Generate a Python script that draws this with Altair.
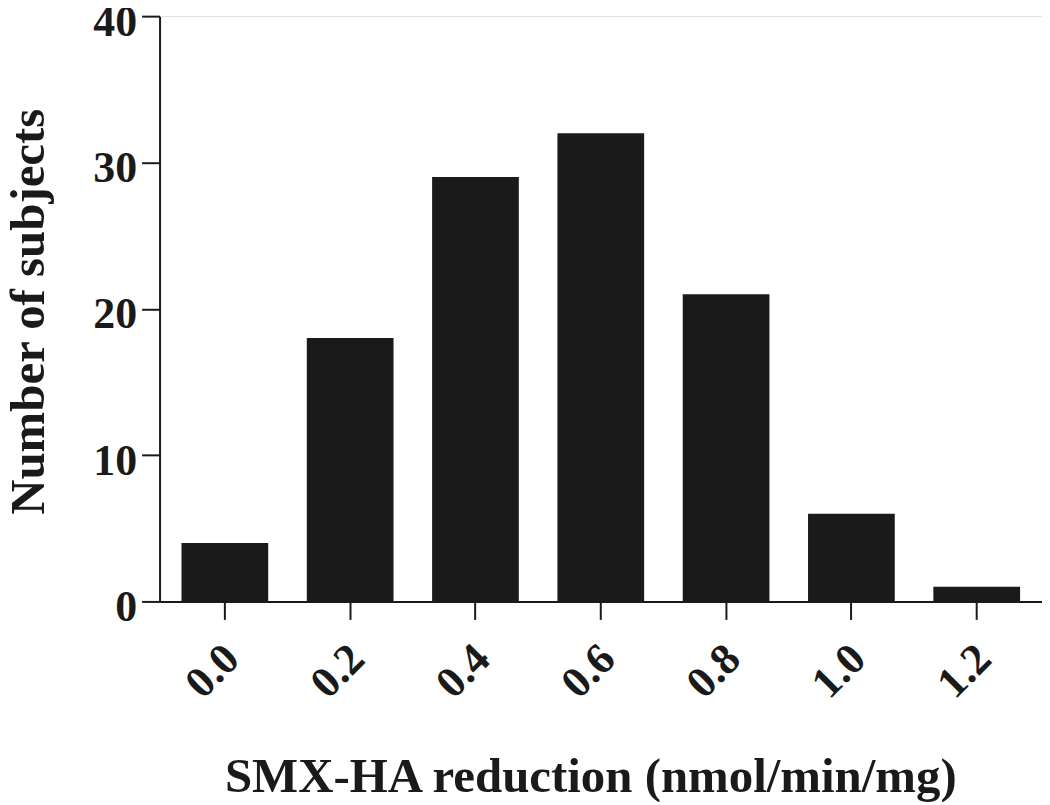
import altair as alt
import pandas as pd

categories = ["0.0", "0.2", "0.4", "0.6", "0.8", "1.0", "1.2"]
counts = [4, 18, 29, 32, 21, 6, 1]

df = pd.DataFrame({"bin": categories, "n": counts})

FONT = "Liberation Serif"

chart = alt.Chart(df).mark_bar(color="#1a1a1a").encode(
    x=alt.X(
        "bin:N",
        sort=categories,
        scale=alt.Scale(paddingInner=0.308, paddingOuter=0.175),
        axis=alt.Axis(
            title="SMX-HA reduction (nmol/min/mg)",
            labelAngle=315,
            labelAlign="right",
            labelBaseline="top",
            labelPadding=17,
            labelOffset=-8,
            labelFont=FONT,
            labelFontSize=44,
            labelFontWeight="bold",
            labelColor="#1a1a1a",
            tickSize=18,
            tickWidth=2,
            tickColor="#1a1a1a",
            domainWidth=2,
            domainColor="#1a1a1a",
            titleFont=FONT,
            titleFontSize=49,
            titleFontWeight="bold",
            titleColor="#1a1a1a",
            titleX=432,
            titleY=191,
            titleAlign="center",
            titleBaseline="alphabetic",
        ),
    ),
    y=alt.Y(
        "n:Q",
        scale=alt.Scale(domain=[0, 40], nice=False),
        axis=alt.Axis(
            title="Number of subjects",
            values=[0, 10, 20, 30, 40],
            grid=False,
            labelFont=FONT,
            labelFontSize=44,
            labelFontWeight="bold",
            labelColor="#1a1a1a",
            labelPadding=5,
            labelBaseline="middle",
            labelOffset=6,
            tickSize=18,
            tickWidth=2,
            tickColor="#1a1a1a",
            domainWidth=2,
            domainColor="#1a1a1a",
            titleFont=FONT,
            titleFontSize=49,
            titleFontWeight="bold",
            titleColor="#1a1a1a",
            titleAngle=270,
            titleX=-116,
            titleY=296,
            titleAlign="center",
            titleBaseline="alphabetic",
        ),
    ),
).properties(
    width=885,
    height=587,
    autosize=alt.AutoSizeParams(type="none"),
    padding={"left": 152, "top": 7, "right": 0, "bottom": 200},
).configure_view(stroke=None).configure(background="white")

chart.save("out.html", embed_options={"renderer": "svg", "actions": False})
